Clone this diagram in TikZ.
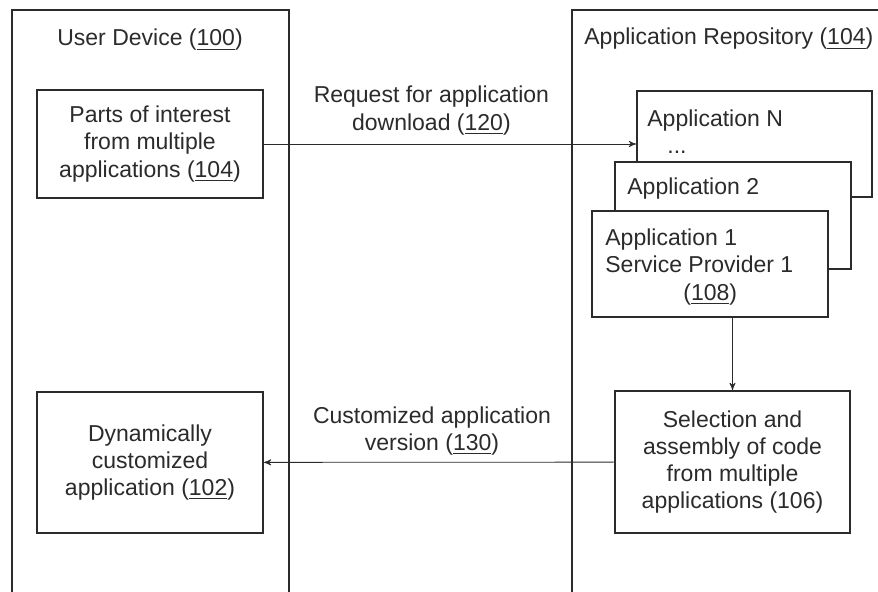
\documentclass[tikz,border=0pt]{standalone}
\usepackage{fontspec}
\setmainfont{Liberation Sans}
\usetikzlibrary{arrows,positioning}
\definecolor{ink}{HTML}{2B2B2B}

\begin{document}
\begin{tikzpicture}[x=0.5pt, y=-0.5pt, ->, >=stealth', thin, draw=ink, text=ink, font=\fontsize{11.5}{13.6}\selectfont]
  \tikzstyle{box}=[draw=ink, line width=1pt, fill=white, rectangle, align=center, inner sep=2pt]
  \tikzstyle{title}=[inner sep=0pt, anchor=west, align=left]

  \useasboundingbox (0,0) rectangle (878,592);
  \clip (0,0) rectangle (878,592);

  % the two sides
  \draw[-, line width=1pt] (12,10) rectangle (289,610);
  \draw[-, line width=1pt] (572,10) rectangle (900,610);
  \node (dev) at (150,40) {User Device (\underline{100})};
  \node[title] (repo) at (584,39) {Application Repository (\underline{104})};

  % user device
  \node[box, minimum width=113pt, minimum height=54pt] (parts) at (150,144) {Parts of interest\\from multiple\\applications (\underline{104})};
  \node[box, minimum width=113pt, minimum height=70.5pt] (dyn) at (150,462.5) {Dynamically\\customized\\application (\underline{102})};

  % application stack, back to front
  \node[box, minimum width=117.5pt, minimum height=53pt] (appN) at (754.5,144) {};
  \node[title] (appNtxt) at (647,132) {Application N\\\hspace*{10pt}...};
  \node[box, minimum width=118pt, minimum height=53.5pt] (app2) at (733,215.5) {};
  \node[title] (app2txt) at (627,189) {Application 2};
  \node[box, minimum width=118pt, minimum height=53pt] (app1) at (710,264) {};
  \node[title] (app1txt) at (605,267) {Application 1\\Service Provider 1\\\hspace*{39pt}(\underline{108})};

  % assembly
  \node[box, minimum width=117.5pt, minimum height=71pt] (sel) at (732.5,462) {Selection and\\assembly of code\\from multiple\\applications (106)};

  \path (parts) edge node[above, pos=0.45, align=center, yshift=1pt] {Request for application\\download (\underline{120})} (appN)
        (app1.south -| sel.north) edge (sel.north)
        (sel) edge node[above, pos=0.52, align=center] {Customized application\\version (\underline{130})} (dyn);
\end{tikzpicture}
\end{document}
